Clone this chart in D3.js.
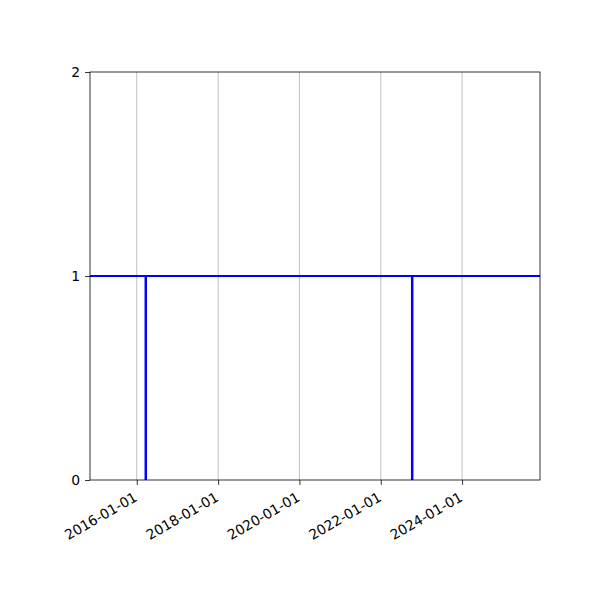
<!DOCTYPE html>
<html>
<head>
<meta charset="utf-8">
<script src="https://cdn.jsdelivr.net/npm/d3@7"></script>
<style>
body { margin: 0; background: #fff; }
text { font-family: "DejaVu Sans", sans-serif; }
</style>
</head>
<body>
<div id="chart"></div>
<script>
// data
var xDomain = ["2014-11-07", "2025-12-01"];
var yDomain = [0, 2];
var yTicks = [0, 1, 2];
var xTicks = ["2016-01-01", "2018-01-01", "2020-01-01", "2022-01-01", "2024-01-01"];
var level = 1;
var eventDates = ["2016-03-22", "2022-10-10"];

var parse = d3.timeParse("%Y-%m-%d");
var fmt = d3.timeFormat("%Y-%m-%d");

var width = 600, height = 600;
var mLeft = 90, mRight = 540, mTop = 72, mBottom = 480;

var svg = d3.select("#chart").append("svg")
  .attr("width", width)
  .attr("height", height);

var x = d3.scaleTime()
  .domain(xDomain.map(parse))
  .range([mLeft, mRight]);
var y = d3.scaleLinear()
  .domain(yDomain)
  .range([mBottom, mTop]);

// vertical grid at date ticks
svg.append("g")
  .selectAll("line")
  .data(xTicks.map(parse))
  .enter()
  .append("line")
  .attr("x1", function(d) { return x(d); })
  .attr("x2", function(d) { return x(d); })
  .attr("y1", mTop)
  .attr("y2", mBottom)
  .style("stroke", "#b0b0b0")
  .style("stroke-width", 0.8);

// level line across the whole range
svg.append("clipPath").attr("id", "clip")
  .append("rect")
  .attr("x", mLeft).attr("y", mTop)
  .attr("width", mRight - mLeft).attr("height", mBottom - mTop);

var plot = svg.append("g").attr("clip-path", "url(#clip)");

plot.append("line")
  .attr("x1", x(parse(xDomain[0])))
  .attr("x2", x(parse(xDomain[1])))
  .attr("y1", y(level))
  .attr("y2", y(level))
  .style("stroke", "blue")
  .style("stroke-width", 2);

plot.selectAll(".event")
  .data(eventDates.map(parse))
  .enter()
  .append("line")
  .attr("class", "event")
  .attr("x1", function(d) { return x(d); })
  .attr("x2", function(d) { return x(d); })
  .attr("y1", y(0))
  .attr("y2", y(level))
  .style("stroke", "blue")
  .style("stroke-width", 2.5);

// axes
var xAxis = d3.axisBottom(x)
  .tickValues(xTicks.map(parse))
  .tickFormat(fmt)
  .tickSize(4.9)
  .tickPadding(4.9);

var gx = svg.append("g")
  .attr("transform", "translate(0," + mBottom + ")")
  .call(xAxis);
gx.select(".domain").remove();
gx.selectAll(".tick line").style("stroke", "#000").style("stroke-width", 0.8);
gx.selectAll(".tick text")
  .attr("x", 0)
  .attr("y", 0)
  .attr("dy", null)
  .style("font-size", "13.9px")
  .style("fill", "#000")
  .attr("text-anchor", "end")
  .attr("transform", "translate(1,20) rotate(-30)");

var yAxis = d3.axisLeft(y)
  .tickValues(yTicks)
  .tickFormat(d3.format("d"))
  .tickSize(4.9)
  .tickPadding(4.9);

var gy = svg.append("g")
  .attr("transform", "translate(" + mLeft + ",0)")
  .call(yAxis);
gy.select(".domain").remove();
gy.selectAll(".tick line").style("stroke", "#000").style("stroke-width", 0.8);
gy.selectAll(".tick text")
  .style("font-size", "13.9px")
  .style("fill", "#000");

// frame
svg.append("rect")
  .attr("x", mLeft)
  .attr("y", mTop)
  .attr("width", mRight - mLeft)
  .attr("height", mBottom - mTop)
  .style("fill", "none")
  .style("stroke", "#000")
  .style("stroke-width", 0.8);
</script>
</body>
</html>
